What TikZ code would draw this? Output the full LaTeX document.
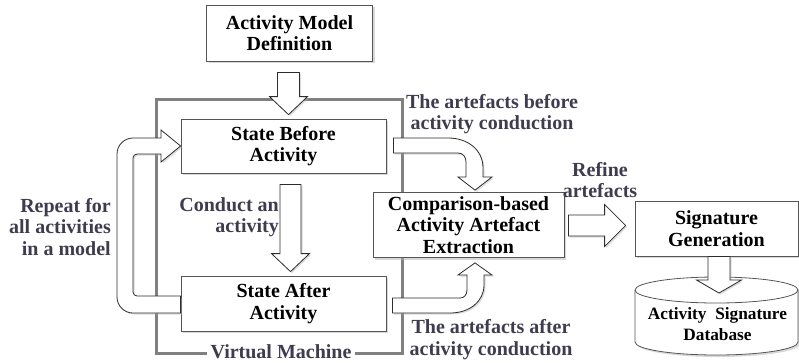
\documentclass[tikz,border=0pt]{standalone}
\usepackage{fontspec}
\setmainfont{Liberation Serif}
\usetikzlibrary{calc,shadows}

\definecolor{labelink}{RGB}{62,60,78}
\definecolor{framegray}{RGB}{128,128,128}
\definecolor{edgegray}{RGB}{85,85,85}
\definecolor{arrowedge}{RGB}{45,45,45}

\tikzset{
  txt/.style={font=\bfseries\fontsize{20pt}{21.5pt}\selectfont, align=center},
  box/.style={txt, draw=edgegray, line width=0.8pt, fill=white, inner sep=0pt,
    drop shadow={shadow xshift=2pt, shadow yshift=-2pt, fill=black!30, opacity=0.5}},
  lbl/.style={txt, text=labelink, inner sep=0pt},
  blk/.style={draw=arrowedge, line width=0.8pt, fill=white, line join=miter,
    drop shadow={shadow xshift=1.5pt, shadow yshift=-1.5pt, fill=black!30, opacity=0.45}},
  vmframe/.style={draw=framegray, line width=3pt, inner sep=0pt},
}

% block arrow pointing down: start, tip, half shaft, half head, head length
\newcommand\downblock[5]{%
  \draw[blk] let \p1=(#1), \p2=(#2) in
    (\x1-#3,\y1) -- (\x1+#3,\y1) -- (\x1+#3,\y2+#5) -- (\x1+#4,\y2+#5)
    -- (\x1,\y2) -- (\x1-#4,\y2+#5) -- (\x1-#3,\y2+#5) -- cycle;}
% block arrow pointing right: start, tip, half shaft, half head, head length
\newcommand\rightblock[5]{%
  \draw[blk] let \p1=(#1), \p2=(#2) in
    (\x1,\y1+#3) -- (\x2-#5,\y1+#3) -- (\x2-#5,\y1+#4) -- (\x2,\y1)
    -- (\x2-#5,\y1-#4) -- (\x2-#5,\y1-#3) -- (\x1,\y1-#3) -- cycle;}

\begin{document}
\begin{tikzpicture}[x=1pt,y=-1pt]
\useasboundingbox (0,0) rectangle (799,362);

% virtual machine frame
\node[vmframe, minimum width=246pt, minimum height=254pt] (vm) at (279,226) {};

% boxes
\node[box, minimum width=166pt, minimum height=56pt] (amd) at (289.5,33) {Activity Model\\Definition};
\node[box, minimum width=205pt, minimum height=54pt] (sba) at (283.5,146) {State Before\\Activity};
\node[box, minimum width=205pt, minimum height=55pt] (saa) at (283.5,303.5) {State After\\Activity};
\node[box, minimum width=191pt, minimum height=65pt] (cmp) at (468.5,225) {Comparison-based\\Activity Artefact\\Extraction};
\node[box, minimum width=163pt, minimum height=55pt] (sig) at (716.5,228.5) {Signature\\Generation};

% database cylinder
\coordinate (dbtop) at (716.5,277);
\path[fill=white, drop shadow={shadow xshift=2pt, shadow yshift=-2pt, fill=black!30, opacity=0.5}]
  (635,290) -- (635,342) arc[start angle=180, end angle=0, x radius=81.5, y radius=13]
  -- (798,290) arc[start angle=0, end angle=-180, x radius=81.5, y radius=13] -- cycle;
\draw[edgegray, line width=0.8pt]
  (635,290) -- (635,342) arc[start angle=180, end angle=0, x radius=81.5, y radius=13] -- (798,290);
\draw[edgegray, line width=0.8pt] (716.5,290) ellipse[x radius=81.5, y radius=13];
\node[txt, font=\bfseries\fontsize{17.3pt}{21pt}\selectfont, inner sep=0pt] (db) at (717.5,324.5) {Activity\ \ Signature\\Database};

% straight block arrows
\downblock{$(amd.south)+(-1,11)$}{$(sba.north)+(0,-4)$}{11pt}{19pt}{18pt}
\downblock{$(sba.south)+(7,11)$}{$(saa.north)+(0,-4)$}{10.5pt}{19pt}{18pt}
\downblock{$(sig.south)+(2.5,0)$}{$(dbtop)+(0,16)$}{11pt}{22.5pt}{13pt}
\rightblock{$(cmp.east)+(4,0.5)$}{$(sig.west)+(-9,0)$}{10.5pt}{21pt}{21pt}

% loop back from the state after to the state before
\coordinate (loopin) at (saa.west);
\coordinate (loopout) at (sba.west);
\draw[blk] ($(loopin)+(0,9.5)$) -- (133,313)
  .. controls (124.2,313) and (117,305.8) .. (117,297) -- (117,154)
  .. controls (117,145.2) and (124.2,138) .. (133,138) -- (161,138) -- (161,130)
  -- ($(loopout)+(0,0)$) -- (161,162) -- (161,154) -- (137,154)
  .. controls (134.8,154) and (133,155.8) .. (133,158) -- (133,292)
  .. controls (133,294.2) and (134.8,296) .. (137,296) -- ($(loopin)+(0,-7.5)$) -- cycle;

% artefacts before: state before to comparison
\draw[blk] ($(sba.east)+(7,-8)$) -- (448,138)
  .. controls (468,138) and (483,150) .. (483,168) -- (483,177) -- (492,177)
  -- ($(cmp.north)+(6.5,-2)$) -- (458,177) -- (466,177) -- (466,162)
  .. controls (466,157) and (463,153) .. (458,153) -- ($(sba.east)+(7,7)$) -- cycle;

% artefacts after: state after to comparison
\draw[blk] ($(saa.east)+(6,-5.5)$) -- (460,298)
  .. controls (464,298) and (467,295) .. (467,290) -- (467,275) -- (458,275)
  -- ($(cmp.south)+(6.5,5)$) -- (492,275) -- (484,275) -- (484,285)
  .. controls (484,301) and (470,313) .. (450,313) -- ($(saa.east)+(6,9.5)$) -- cycle;

% labels
\node[lbl, align=right, anchor=east] (rep) at (111,227) {Repeat for\\all activities\\in a model};
\node[lbl, align=right, anchor=east] (cond) at (279,217) {Conduct an\\activity};
\node[lbl] (before) at (492,114) {The artefacts before\\activity conduction};
\node[lbl] (refine) at (600,180) {Refine\\artefacts};
\node[lbl] (after) at (491,339.5) {The artefacts after\\activity conduction};
\node[lbl, fill=white, inner xsep=4pt, inner ysep=0.5pt] (vmlabel) at ($(vm.south)+(2,-3)$) {Virtual Machine};
\end{tikzpicture}
\end{document}
